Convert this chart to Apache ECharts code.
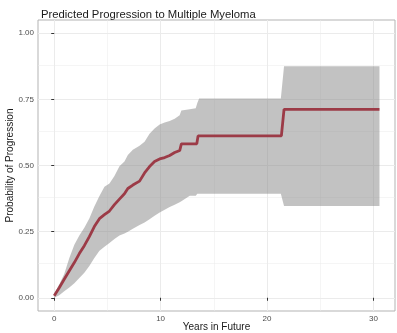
<!DOCTYPE html>
<html>
<head>
<meta charset="utf-8">
<script src="https://cdn.jsdelivr.net/npm/echarts@6/dist/echarts.min.js"></script>
<style>
  html, body { margin: 0; padding: 0; background: #fff; }
  #chart { width: 397px; height: 333px; }
</style>
</head>
<body>
<div id="chart"></div>
<script>
// ── Data ─────────────────────────────────────────────────────────────────────
const years = [0, 0.47, 0.94, 1.42, 1.89, 2.36, 2.83, 3.3, 3.77, 4.25, 4.72, 5.19, 5.66, 6.13, 6.6, 6.92,
  7.39, 8.02, 8.49, 8.96, 9.43, 9.91, 10.38, 10.85, 11.32, 11.8, 11.95, 13.4, 13.52, 21.35, 21.6, 30.57]
const estimate = [0.008, 0.038, 0.07, 0.102, 0.133, 0.167, 0.197, 0.231, 0.269, 0.299, 0.314, 0.328, 0.352,
  0.373, 0.393, 0.413, 0.426, 0.441, 0.472, 0.496, 0.515, 0.525, 0.53, 0.538, 0.549, 0.557, 0.582, 0.582,
  0.612, 0.612, 0.712, 0.712]

// confidence band (ribbon, linear between points)
const bandYears = [0, 0.47, 0.94, 1.42, 1.89, 2.36, 2.83, 3.3, 3.77, 4.25, 4.72, 5.19, 5.66, 6.13, 6.6, 6.92,
  7.39, 8.02, 8.49, 8.96, 9.43, 9.91, 10.38, 10.85, 11.32, 11.79, 11.95, 12.74, 13.3, 13.45, 13.62, 21.3,
  21.6, 30.57]
const bandLower = [0, 0.01, 0.025, 0.039, 0.055, 0.075, 0.095, 0.12, 0.15, 0.178, 0.193, 0.207, 0.222,
  0.235, 0.243, 0.25, 0.261, 0.275, 0.285, 0.297, 0.31, 0.322, 0.333, 0.343, 0.352, 0.361, 0.365, 0.386,
  0.386, 0.393, 0.393, 0.393, 0.347, 0.347]
const bandUpper = [0.015, 0.05, 0.09, 0.15, 0.2, 0.235, 0.265, 0.3, 0.345, 0.385, 0.42, 0.432, 0.46, 0.497,
  0.515, 0.54, 0.56, 0.575, 0.59, 0.62, 0.64, 0.655, 0.663, 0.668, 0.677, 0.69, 0.708, 0.713, 0.716, 0.736,
  0.753, 0.753, 0.875, 0.875]

const xTicks = [0, 10, 20, 30]
const xMinor = [5, 15, 25]
const yTicks = [0, 0.25, 0.5, 0.75, 1]
const yMinor = [0.125, 0.375, 0.625, 0.875]

// ── Helpers ──────────────────────────────────────────────────────────────────
const gridLines = (axis, vals, width) =>
  vals.map(v => ({ [axis]: v, lineStyle: { color: '#ebebeb', width, type: 'solid' } }))

function bandPolygon() {
  const top = bandYears.map((t, i) => [t, bandUpper[i]])
  const bottom = bandYears.map((t, i) => [t, bandLower[i]]).reverse()
  return top.concat(bottom)
}

const labelStyle = { color: '#4d4d4d', fontSize: 8, fontFamily: 'Liberation Sans' }
const nameStyle = { color: '#1a1a1a', fontSize: 10, fontFamily: 'Liberation Sans' }

const option = {
  animation: false,
  title: {
    text: 'Predicted Progression to Multiple Myeloma',
    left: 36,
    top: 4,
    textStyle: { color: '#1a1a1a', fontSize: 11.3, fontWeight: 'normal', fontFamily: 'Liberation Sans' },
  },
  grid: {
    left: 38, right: 2, top: 20, bottom: 22,
    outerBoundsMode: 'none',
    containLabel: false,
    show: true, borderColor: '#b3b3b3', borderWidth: 1, backgroundColor: '#fff',
  },
  xAxis: {
    type: 'value',
    min: -1.525,
    max: 32.03,
    name: 'Years in Future',
    nameLocation: 'middle',
    nameGap: 11,
    nameMoveOverlap: false,
    nameTextStyle: nameStyle,
    axisLine: { show: false },
    splitLine: { show: false },
    axisTick: { show: true, customValues: xTicks, length: 3, lineStyle: { color: '#333' } },
    axisLabel: { customValues: xTicks, margin: 4, ...labelStyle },
  },
  yAxis: {
    type: 'value',
    min: -0.05,
    max: 1.05,
    name: 'Probability of Progression',
    nameLocation: 'middle',
    nameGap: 23,
    nameMoveOverlap: false,
    nameTextStyle: nameStyle,
    axisLine: { show: false },
    splitLine: { show: false },
    axisTick: { show: true, customValues: yTicks, length: 3, lineStyle: { color: '#333' } },
    axisLabel: { customValues: yTicks, margin: 4, formatter: v => v.toFixed(2), ...labelStyle },
  },
  series: [
    {
      // background grid (major + minor)
      type: 'line',
      data: [],
      z: 0,
      silent: true,
      markLine: {
        z: 0,
        silent: true,
        symbol: 'none',
        label: { show: false },
        animation: false,
        data: [
          ...gridLines('xAxis', xMinor, 0.5),
          ...gridLines('yAxis', yMinor, 0.5),
          ...gridLines('xAxis', xTicks, 1),
          ...gridLines('yAxis', yTicks, 1),
        ],
      },
    },
    {
      type: 'custom',
      z: 2,
      silent: true,
      data: [0],
      renderItem: (params, api) => ({
        type: 'polygon',
        shape: { points: bandPolygon().map(p => api.coord(p)) },
        style: { fill: 'rgba(128,128,128,0.48)' },
      }),
    },
    {
      type: 'line',
      data: years.map((t, i) => [t, estimate[i]]),
      symbol: 'none',
      lineStyle: { color: '#9c3b47', width: 2.8 },
      z: 3,
    },
  ],
}

const chart = echarts.init(document.getElementById('chart'))
chart.setOption(option)
</script>
</body>
</html>
